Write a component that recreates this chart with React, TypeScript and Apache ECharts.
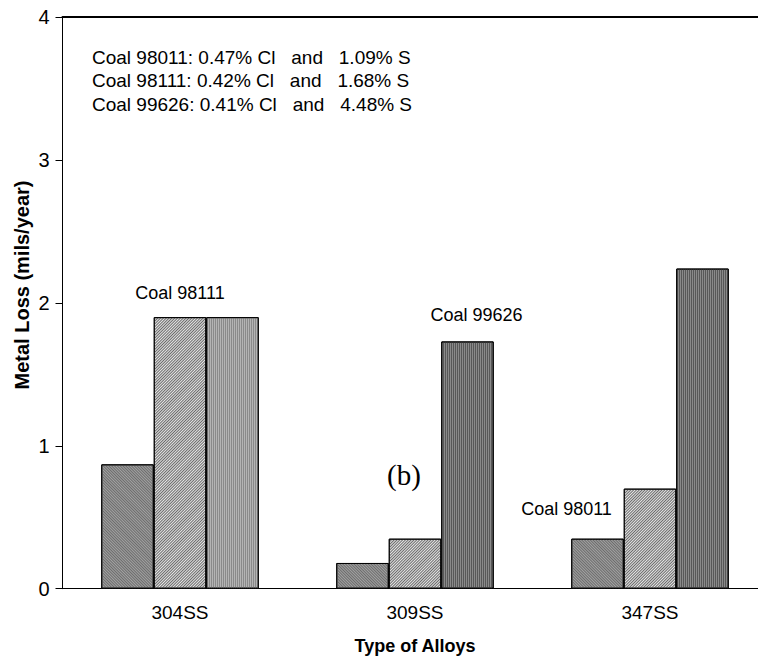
import React, { useEffect, useRef } from "react";
import * as echarts from "echarts";

const categories = ["304SS", "309SS", "347SS"];
const seriesNames = ["Coal 98011", "Coal 98111", "Coal 99626"];
const coal98011 = [0.87, 0.18, 0.35];
const coal98111 = [1.9, 0.35, 0.7];
const coal99626 = [1.9, 1.73, 2.24];
const yTickValues = [0, 1, 2, 3, 4];
const noteLines = [
  "Coal 98011: 0.47% Cl   and   1.09% S",
  "Coal 98111: 0.42% Cl   and   1.68% S",
  "Coal 99626: 0.41% Cl   and   4.48% S",
];
const panelLabel = "(b)";
const xTitle = "Type of Alloys";
const yTitle = "Metal Loss (mils/year)";

const FONT = "'Liberation Sans', Arial, sans-serif";

// which bar carries which coal label
const barNotes = [
  { series: 1, index: 0, text: "Coal 98111", dx: 0, distance: 15 },
  { series: 2, index: 1, text: "Coal 99626", dx: 9, distance: 17 },
  { series: 0, index: 2, text: "Coal 98011", dx: -31, distance: 21 },
];

const decals = [
  { symbol: "rect", symbolSize: 1, dashArrayX: [1, 0], dashArrayY: [1, 1], rotation: Math.PI / 4, color: "#6c6c6c" },
  { symbol: "rect", symbolSize: 1, dashArrayX: [1, 0], dashArrayY: [1, 1], rotation: -Math.PI / 4, color: "#6a6a6a" },
  { symbol: "rect", symbolSize: 1, dashArrayX: [1, 0], dashArrayY: [1, 1], rotation: Math.PI / 2, color: "#585858" },
];
const baseColors = ["#a2a2a2", "#e6e6e6", "#8a8a8a"];
const lightStripe = { symbol: "rect", symbolSize: 1, dashArrayX: [1, 0], dashArrayY: [1, 1], rotation: Math.PI / 2, color: "#8a8a8a" };

export default function App() {
  const ref = useRef<HTMLDivElement>(null);
  useEffect(() => {
    if (!ref.current) return;
    const chart = echarts.init(ref.current, undefined, { renderer: "svg" });
    const allValues = [coal98011, coal98111, coal99626];
    const series = allValues.map((vals, si) => ({
      type: "bar",
      name: seriesNames[si],
      barGap: "0%",
      barCategoryGap: "33%",
      itemStyle: {
        color: baseColors[si],
        borderColor: "#000",
        borderWidth: 1,
        decal: decals[si],
      },
      data: vals.map((v, i) => {
        const item: any = { value: v };
        const note = barNotes.find((n) => n.series === si && n.index === i);
        if (note) {
          item.label = {
            show: true,
            position: "top",
            distance: note.distance,
            offset: [note.dx, 0],
            formatter: note.text,
            fontSize: 18,
            fontFamily: FONT,
            color: "#000",
          };
        }
        if (si === 2 && i === 0) {
          item.itemStyle = { color: "#b4b4b4", decal: lightStripe };
        }
        return item;
      }),
    }));

    chart.setOption({
      animation: false,
      backgroundColor: "#fff",
      grid: { left: 62.5, top: 17, right: 12.5, bottom: 71.3, containLabel: false },
      xAxis: [
        {
          type: "category",
          data: categories,
          position: "bottom",
          axisLine: { lineStyle: { color: "#000", width: 1 } },
          axisTick: { show: false },
          axisLabel: { fontSize: 19, fontFamily: FONT, color: "#000", margin: 14 },
          name: xTitle,
          nameLocation: "middle",
          nameGap: 48,
          nameTextStyle: { fontSize: 18, fontWeight: "bold", fontFamily: FONT, color: "#000" },
        },
        {
          type: "category",
          data: categories,
          position: "top",
          axisLine: { lineStyle: { color: "#000", width: 2 } },
          axisTick: { show: false },
          axisLabel: { show: false },
        },
      ],
      yAxis: {
        type: "value",
        min: yTickValues[0],
        max: yTickValues[yTickValues.length - 1],
        interval: 1,
        axisLine: { show: true, lineStyle: { color: "#000", width: 1 } },
        axisTick: { show: true, length: 7, lineStyle: { color: "#000" } },
        splitLine: { show: false },
        axisLabel: { fontSize: 20, fontFamily: FONT, color: "#000", margin: 13 },
      },
      series,
      graphic: [
        {
          type: "text",
          x: 22,
          y: 285,
          rotation: Math.PI / 2,
          style: {
            text: yTitle,
            fontSize: 20,
            fontWeight: "bold",
            fontFamily: FONT,
            fill: "#000",
            align: "center",
            verticalAlign: "middle",
          },
        },
        ...noteLines.map((t, i) => ({
          type: "text",
          x: 92,
          y: 57 + i * 23.5,
          style: {
            text: t,
            fontSize: 19,
            fontFamily: FONT,
            fill: "#000",
            align: "left",
            verticalAlign: "middle",
          },
        })),
        {
          type: "text",
          x: 404,
          y: 475,
          style: {
            text: panelLabel,
            fontSize: 29,
            fontFamily: "'Liberation Serif', 'Times New Roman', serif",
            fill: "#000",
            align: "center",
            verticalAlign: "middle",
          },
        },
      ],
    });
    return () => chart.dispose();
  }, []);

  return (
    <div
      style={{
        position: "fixed",
        left: 0,
        top: 0,
        width: 758,
        height: 660,
        overflow: "hidden",
        background: "#fff",
      }}
    >
      <div ref={ref} style={{ width: 780, height: 660 }} />
    </div>
  );
}
